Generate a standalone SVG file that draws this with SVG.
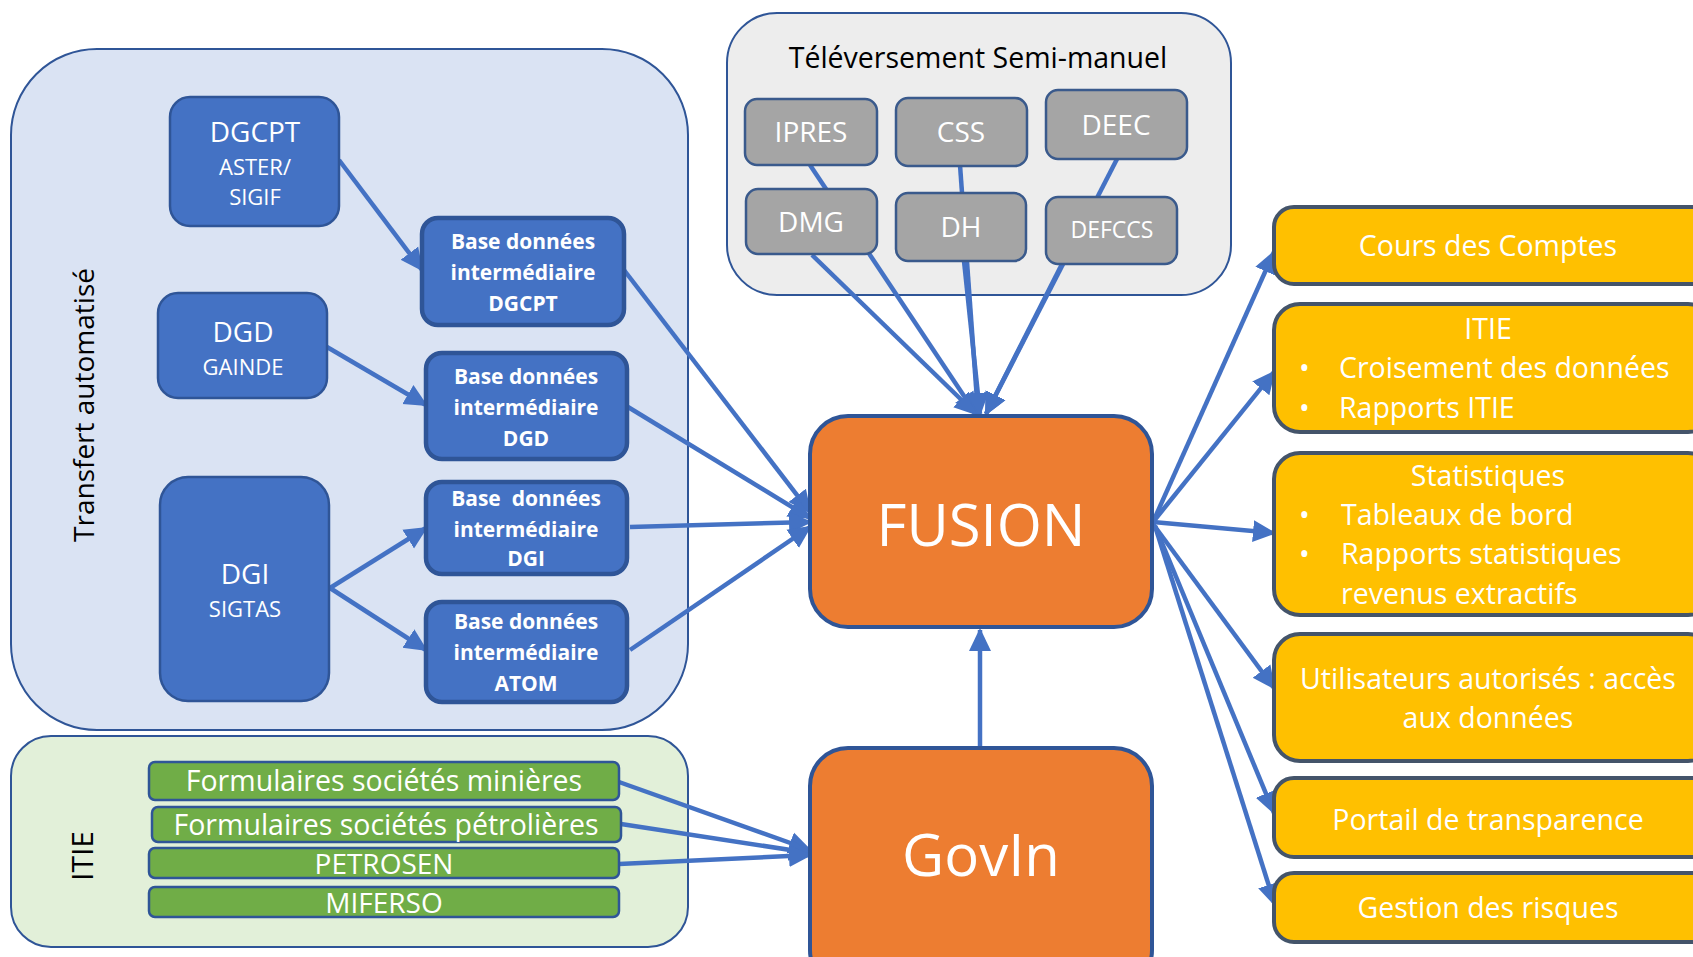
<svg xmlns="http://www.w3.org/2000/svg" width="1693" height="957" viewBox="0 0 1693 957">
<defs>
<marker id="ah" markerUnits="userSpaceOnUse" markerWidth="24" markerHeight="24" refX="21" refY="12" orient="auto">
<path d="M0,1 L23,12 L0,23 z" fill="#4472C4"/>
</marker>
<style>
.t{font-family:"Open Sans","Liberation Sans",sans-serif;fill:#fff;text-anchor:middle}
.k{font-family:"Open Sans","Liberation Sans",sans-serif;fill:#000;text-anchor:middle}
.b{font-family:"Open Sans","Liberation Sans",sans-serif;fill:#fff;text-anchor:middle;font-weight:bold;font-size:21px}
.y{font-family:"Open Sans","Liberation Sans",sans-serif;fill:#fff;font-size:28.5px}
.blue{fill:#4472C4;stroke:#2F5597;stroke-width:2.5}
.base{fill:#4472C4;stroke:#2F5597;stroke-width:4.5}
.grey{fill:#A5A5A5;stroke:#3A5A8C;stroke-width:2.5}
.green{fill:#70AD47;stroke:#2F5597;stroke-width:2.5}
.orange{fill:#ED7D31;stroke:#2F5597;stroke-width:4}
.yel{fill:#FFC000;stroke:#44546A;stroke-width:4}
.c line{stroke:#4472C4;stroke-width:4.5;marker-end:url(#ah)}
</style>
</defs>
<rect width="1693" height="957" fill="#fff"/>

<g id="containers">
<rect id="auto" x="11" y="49" width="677" height="681" rx="86" fill="#DAE3F3" stroke="#2F5597" stroke-width="2"/>
<text class="k" font-size="28" transform="translate(94,405) rotate(-90)">Transfert automatisé</text>
<rect id="itie-group" x="11" y="736" width="677" height="211" rx="40" fill="#E2F0D9" stroke="#2F5597" stroke-width="2"/>
<text class="k" font-size="30" transform="translate(93,856) rotate(-90)">ITIE</text>
<rect id="semi" x="727" y="13" width="504" height="282" rx="50" fill="#EDEDED" stroke="#2F5597" stroke-width="2"/>
<text class="k" font-size="28.5" x="978" y="68">Téléversement Semi-manuel</text>
</g>

<g id="connectors" class="c">
<line x1="339" y1="160" x2="422" y2="270"/>
<line x1="327" y1="347" x2="426" y2="405"/>
<line x1="330" y1="588" x2="426" y2="528"/>
<line x1="330" y1="588" x2="426" y2="650"/>
<line x1="624" y1="270" x2="810" y2="512"/>
<line x1="628" y1="407" x2="810" y2="518"/>
<line x1="630" y1="527" x2="810" y2="522"/>
<line x1="630" y1="650" x2="810" y2="527"/>
<line x1="810" y1="165" x2="976" y2="414"/>
<line x1="812" y1="255" x2="976" y2="414"/>
<line x1="960" y1="165" x2="978" y2="414"/>
<line x1="964" y1="261" x2="980" y2="414"/>
<line x1="1117" y1="159" x2="986" y2="414"/>
<line x1="1062" y1="264" x2="986" y2="414"/>
<line x1="980" y1="748" x2="980" y2="630"/>
<line x1="619" y1="782" x2="810" y2="850"/>
<line x1="621" y1="824" x2="810" y2="853"/>
<line x1="619" y1="864" x2="810" y2="855"/>
<line x1="1153" y1="522" x2="1274" y2="252"/>
<line x1="1153" y1="522" x2="1274" y2="372"/>
<line x1="1153" y1="522" x2="1274" y2="533"/>
<line x1="1153" y1="524" x2="1274" y2="688"/>
<line x1="1155" y1="526" x2="1274" y2="813"/>
<line x1="1155" y1="526" x2="1275" y2="905"/>
</g>

<g id="dgcpt"><rect class="blue" x="170" y="97" width="169" height="129" rx="20"/>
<text class="t" font-size="28" x="255" y="142">DGCPT</text>
<text class="t" font-size="22" x="255" y="175">ASTER/</text>
<text class="t" font-size="22" x="255" y="205">SIGIF</text></g>

<g id="dgd"><rect class="blue" x="158" y="293" width="169" height="105" rx="20"/>
<text class="t" font-size="28" x="243" y="342">DGD</text>
<text class="t" font-size="22" x="243" y="375">GAINDE</text></g>

<g id="dgi"><rect class="blue" x="160" y="477" width="169" height="224" rx="28"/>
<text class="t" font-size="28" x="245" y="584">DGI</text>
<text class="t" font-size="22" x="245" y="617">SIGTAS</text></g>

<g id="base-dgcpt"><rect class="base" x="422" y="218" width="202" height="107" rx="16"/>
<text class="b" x="523" y="249">Base données</text>
<text class="b" x="523" y="280">intermédiaire</text>
<text class="b" x="523" y="311">DGCPT</text></g>

<g id="base-dgd"><rect class="base" x="426" y="353" width="201" height="106" rx="16"/>
<text class="b" x="526" y="384">Base données</text>
<text class="b" x="526" y="415">intermédiaire</text>
<text class="b" x="526" y="446">DGD</text></g>

<g id="base-dgi"><rect class="base" x="426" y="482" width="201" height="92" rx="16"/>
<text class="b" x="526" y="506" style="white-space:pre">Base  données</text>
<text class="b" x="526" y="537">intermédiaire</text>
<text class="b" x="526" y="566">DGI</text></g>

<g id="base-atom"><rect class="base" x="426" y="602" width="201" height="100" rx="16"/>
<text class="b" x="526" y="629">Base données</text>
<text class="b" x="526" y="660">intermédiaire</text>
<text class="b" x="526" y="691">ATOM</text></g>

<g id="f-min"><rect class="green" x="149" y="762" width="470" height="38" rx="6"/>
<text class="t" font-size="28.5" x="384" y="791">Formulaires sociétés minières</text></g>
<g id="f-pet"><rect class="green" x="152" y="807" width="469" height="35" rx="6"/>
<text class="t" font-size="28.5" x="386" y="835">Formulaires sociétés pétrolières</text></g>
<g id="petrosen"><rect class="green" x="149" y="848" width="470" height="30" rx="6"/>
<text class="t" font-size="28" x="384" y="874">PETROSEN</text></g>
<g id="miferso"><rect class="green" x="149" y="887" width="470" height="30" rx="6"/>
<text class="t" font-size="28" x="384" y="913">MIFERSO</text></g>

<g id="ipres"><rect class="grey" x="745" y="99" width="132" height="66" rx="12"/><text class="t" font-size="28" x="811" y="142">IPRES</text></g>
<g id="css"><rect class="grey" x="896" y="98" width="131" height="68" rx="12"/><text class="t" font-size="28" x="961" y="142">CSS</text></g>
<g id="deec"><rect class="grey" x="1046" y="90" width="141" height="69" rx="12"/><text class="t" font-size="28" x="1116" y="135">DEEC</text></g>
<g id="dmg"><rect class="grey" x="746" y="189" width="131" height="65" rx="12"/><text class="t" font-size="28" x="811" y="232">DMG</text></g>
<g id="dh"><rect class="grey" x="896" y="193" width="130" height="68" rx="12"/><text class="t" font-size="28" x="961" y="237">DH</text></g>
<g id="defccs"><rect class="grey" x="1046" y="197" width="131" height="67" rx="12"/><text class="t" font-size="23" x="1112" y="238">DEFCCS</text></g>

<g id="fusion"><rect class="orange" x="810" y="416" width="342" height="211" rx="38"/>
<text class="t" font-size="58" x="981" y="546">FUSION</text></g>
<g id="govin"><rect class="orange" x="810" y="748" width="342" height="240" rx="38"/>
<text class="t" font-size="58" x="981" y="876">GovIn</text></g>

<g id="cours"><rect class="yel" x="1274" y="207" width="440" height="77" rx="20"/>
<text class="y" text-anchor="middle" x="1488" y="256">Cours des Comptes</text></g>
<g id="itie-out"><rect class="yel" x="1274" y="304" width="440" height="128" rx="26"/>
<text class="y" text-anchor="middle" x="1488" y="339">ITIE</text>
<text class="y" x="1299" y="378">•</text><text class="y" x="1339" y="378">Croisement des données</text>
<text class="y" x="1299" y="418">•</text><text class="y" x="1339" y="418">Rapports ITIE</text></g>
<g id="stats"><rect class="yel" x="1274" y="453" width="440" height="162" rx="26"/>
<text class="y" text-anchor="middle" x="1488" y="486">Statistiques</text>
<text class="y" x="1299" y="525">•</text><text class="y" x="1341" y="525">Tableaux de bord</text>
<text class="y" x="1299" y="564">•</text><text class="y" x="1341" y="564">Rapports statistiques</text>
<text class="y" x="1341" y="604">revenus extractifs</text></g>
<g id="users"><rect class="yel" x="1274" y="634" width="440" height="127" rx="26"/>
<text class="y" text-anchor="middle" x="1488" y="689">Utilisateurs autorisés : accès</text>
<text class="y" text-anchor="middle" x="1488" y="728">aux données</text></g>
<g id="portail"><rect class="yel" x="1274" y="778" width="440" height="79" rx="20"/>
<text class="y" text-anchor="middle" x="1488" y="830">Portail de transparence</text></g>
<g id="risques"><rect class="yel" x="1274" y="873" width="440" height="69" rx="20"/>
<text class="y" text-anchor="middle" x="1488" y="918">Gestion des risques</text></g>
</svg>
